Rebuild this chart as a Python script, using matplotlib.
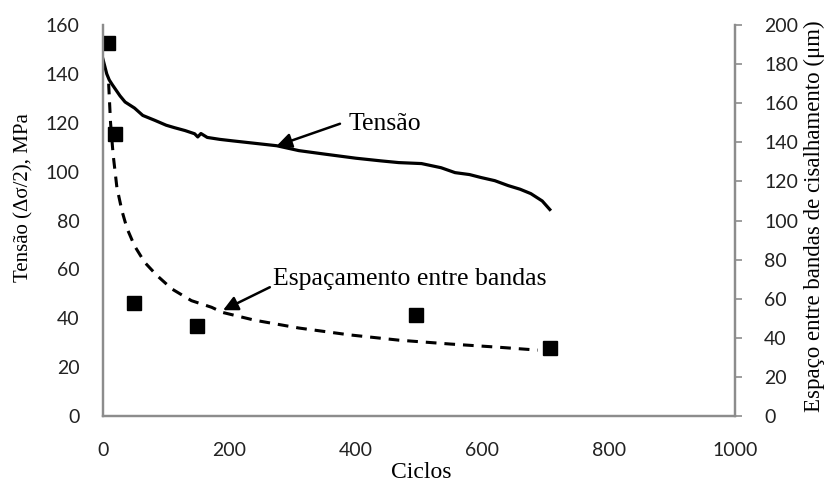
import matplotlib.pyplot as plt

# curva de tensão (ciclos x MPa)
tensao_ciclos = [0, 3, 6, 10, 15, 19, 27, 35, 50, 63, 82, 100, 113, 130, 145,
                 150, 155, 165, 185, 205, 240, 275, 310, 350, 400, 440, 468,
                 504, 535, 557, 580, 598, 620, 641, 660, 677, 695, 707]
tensao_mpa = [146, 143, 140, 137.5, 135.5, 134, 131, 128.5, 126, 123, 121,
              119, 118, 116.8, 115.5, 114.2, 115.6, 114, 113.2, 112.6, 111.6,
              110.6, 108.6, 107.2, 105.5, 104.4, 103.7, 103.3, 101.6, 99.6,
              98.8, 97.6, 96.3, 94.3, 92.8, 91, 88, 84.5]

# espaçamento medido entre bandas de cisalhamento (µm)
esp_ciclos = [8, 19, 49, 148, 496, 707]
esp_um = [191, 144, 58, 46, 51.5, 34.7]

# ajuste (linha tracejada)
ajuste_ciclos = [9, 12, 16, 22, 30, 38, 50, 66, 85, 109, 140, 172, 189, 240,
                 310, 390, 468, 550, 625, 688]
ajuste_um = [170, 150, 134, 117, 105, 96, 87, 78.6, 72, 65, 59, 55.6, 53,
             49, 45, 41.5, 38.8, 36.8, 35.2, 33.7]

x_ticks = [0, 200, 400, 600, 800, 1000]
y_ticks = [0, 20, 40, 60, 80, 100, 120, 140, 160]
y2_ticks = [0, 20, 40, 60, 80, 100, 120, 140, 160, 180, 200]

cinza = '#8c8c8c'
serif = 'Liberation Serif'
sans = 'Lato'

fig = plt.figure(figsize=(8.29, 4.84), dpi=100)
ax = fig.add_axes([0.1242, 0.1405, 0.7624, 0.8078])
ax2 = ax.twinx()

ax.plot(tensao_ciclos, tensao_mpa, color='black', lw=2.3,
        solid_joinstyle='round')
ax2.plot(ajuste_ciclos, ajuste_um, color='black', lw=2.2,
         linestyle=(0, (3.5, 2.6)))
ax2.plot(esp_ciclos, esp_um, 's', color='black', markersize=10)

ax.set_xlim(0, 1000)
ax.set_ylim(0, 160)
ax2.set_ylim(0, 200)
ax.set_xticks(x_ticks)
ax.set_yticks(y_ticks)
ax2.set_yticks(y2_ticks)

for a in (ax, ax2):
    a.spines['top'].set_visible(False)
    for s in ('left', 'right', 'bottom'):
        a.spines[s].set_color(cinza)
        a.spines[s].set_linewidth(1.6)
    a.set_facecolor('none')

ax.tick_params(axis='x', length=0, pad=19, labelsize=14, labelcolor='#222')
ax.tick_params(axis='y', length=0, pad=17, labelsize=14, labelcolor='#222')
ax2.tick_params(axis='y', length=5, width=1.2, color=cinza, pad=16,
                labelsize=14, labelcolor='#222')
for lab in ax.get_xticklabels() + ax.get_yticklabels() + ax2.get_yticklabels():
    lab.set_family(sans)

# títulos dos eixos
fig.text(421 / 829, 1 - 473 / 484, 'Ciclos', family=serif, fontsize=17,
         ha='center', va='center')
fig.text(24 / 829, 1 - 198 / 484, 'Tensão (Δσ/2), MPa', family=serif,
         fontsize=15, rotation=90, ha='center', va='center')
fig.text(814 / 829, 1 - 216 / 484,
         'Espaço entre bandas de cisalhamento (μm)', family=serif,
         fontsize=16.5, rotation=90, ha='center', va='center')

# rótulos com setas
seta = dict(arrowstyle='-|>', mutation_scale=22, lw=1.8, color='black',
            shrinkA=0, shrinkB=0)
ax.annotate('', xy=(275, 110.6), xytext=(375, 119.6), arrowprops=seta)
ax.text(388, 117.1, 'Tensão', family=serif, fontsize=18.5, va='baseline')
ax.annotate('', xy=(190, 43.3), xytext=(264, 52.7), arrowprops=seta)
ax.text(269, 53.5, 'Espaçamento entre bandas', family=serif, fontsize=18.5,
        va='baseline')

fig.savefig('out.png', dpi=100)
